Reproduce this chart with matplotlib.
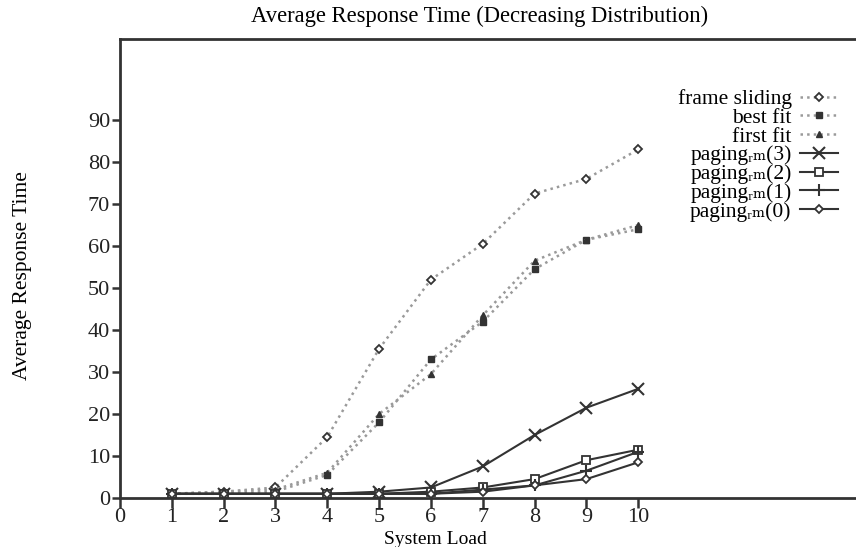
import matplotlib.pyplot as plt

# System load values and response times
load = [1, 2, 3, 4, 5, 6, 7, 8, 9, 10]

frame_sliding = [1.0, 1.5, 2.5, 14.5, 35.5, 52.0, 60.5, 72.5, 76.0, 83.0]
best_fit = [1.0, 1.0, 1.5, 5.5, 18.0, 33.0, 42.0, 54.5, 61.5, 64.0]
first_fit = [1.0, 1.5, 2.0, 6.0, 20.0, 29.5, 43.5, 56.5, 61.5, 65.0]
paging3 = [1.0, 1.0, 1.0, 1.0, 1.5, 2.5, 7.5, 15.0, 21.5, 26.0]
paging2 = [1.0, 1.0, 1.0, 1.0, 1.0, 1.5, 2.5, 4.5, 9.0, 11.5]
paging1 = [1.0, 1.0, 1.0, 1.0, 1.0, 1.0, 2.0, 3.0, 6.5, 11.0]
paging0 = [1.0, 1.0, 1.0, 1.0, 1.0, 1.0, 1.5, 3.0, 4.5, 8.5]

x_ticks = list(range(0, 11))
y_ticks = list(range(0, 100, 10))

plt.rcParams['font.family'] = ['Liberation Serif', 'DejaVu Serif', 'DejaVu Sans']

fig = plt.figure(figsize=(8.56, 5.47), dpi=100)
ax = fig.add_axes([0.140, 0.0896, 0.86, 0.839])

dark = '#333333'
grey = '#9a9a9a'

# dotted heuristics
ax.plot(load, frame_sliding, linestyle=':', color=grey, linewidth=1.8,
        marker='D', markersize=4, markerfacecolor='white', markeredgecolor=dark,
        markeredgewidth=1.3, label='frame sliding')
ax.plot(load, best_fit, linestyle=':', color=grey, linewidth=1.8,
        marker='s', markersize=5, markerfacecolor=dark, markeredgecolor=dark,
        label='best fit')
ax.plot(load, first_fit, linestyle=':', color=grey, linewidth=1.8,
        marker='^', markersize=5, markerfacecolor=dark, markeredgecolor=dark,
        label='first fit')

# paging variants (subscript "rm" as unicode so every legend row has the same height)
ax.plot(load, paging3, linestyle='-', color=dark, linewidth=1.5,
        marker='x', markersize=8, markeredgewidth=1.5,
        label='paging\u1d63\u2098(3)')
ax.plot(load, paging2, linestyle='-', color=dark, linewidth=1.5,
        marker='s', markersize=6, markerfacecolor='white', markeredgewidth=1.3,
        label='paging\u1d63\u2098(2)')
ax.plot(load, paging1, linestyle='-', color=dark, linewidth=1.5,
        marker='+', markersize=9, markeredgewidth=1.5,
        label='paging\u1d63\u2098(1)')
ax.plot(load, paging0, linestyle='-', color=dark, linewidth=1.5,
        marker='D', markersize=4.5, markerfacecolor='white', markeredgewidth=1.3,
        label='paging\u1d63\u2098(0)')

ax.set_xlim(0, 14.2)
ax.set_ylim(0, 109.3)
ax.set_xticks(x_ticks)
ax.set_yticks(y_ticks)
ax.tick_params(axis='both', direction='out', colors=dark, labelsize=16,
               width=1.8, labelcolor='#222222')
ax.tick_params(axis='x', length=7, pad=0)
ax.tick_params(axis='y', length=6, pad=1)

for side in ['left', 'top', 'bottom']:
    ax.spines[side].set_linewidth(2)
    ax.spines[side].set_color(dark)
ax.spines['right'].set_visible(False)

ax.set_title('Average Response Time (Decreasing Distribution)', fontsize=16.3,
             pad=12, x=0.488)
ax.set_xlabel('System Load', fontsize=14)
ax.set_ylabel('Average Response Time', fontsize=15.5)
ax.xaxis.set_label_coords(0.429, -0.071)
ax.yaxis.set_label_coords(-0.12, 0.484)

ax.legend(loc='upper right', bbox_to_anchor=(0.987, 0.91), frameon=False,
          markerfirst=False, fontsize=15.5, handlelength=1.75, handletextpad=0.4,
          labelspacing=-0.06, borderaxespad=0)

fig.savefig('out.png', dpi=100)
